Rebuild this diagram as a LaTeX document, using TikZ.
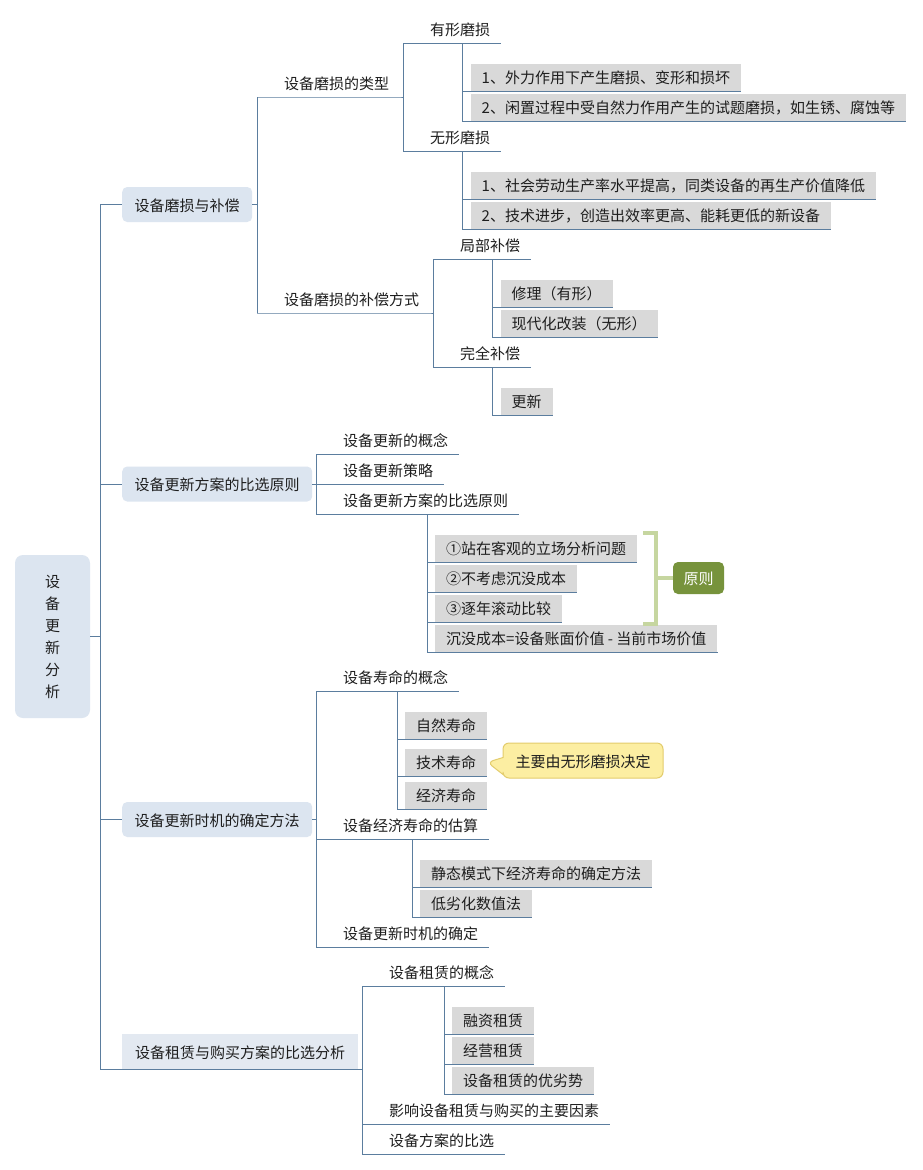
\documentclass[tikz,border=0pt]{standalone}
\usepackage{fontspec}
\setmainfont{Noto Sans CJK SC}
\usetikzlibrary{shapes.callouts}
\definecolor{lc}{HTML}{5B7D9E}
\definecolor{lone}{HTML}{DCE5F0}
\definecolor{ltwo}{HTML}{E3E9F1}
\definecolor{gb}{HTML}{D9D9D9}
\definecolor{brk}{HTML}{C6D6A0}
\definecolor{grn}{HTML}{77933C}
\definecolor{cfill}{HTML}{FCEEA2}
\definecolor{cdraw}{HTML}{E3CC6C}
\definecolor{tx}{HTML}{1E1E1E}
\begin{document}
\begin{tikzpicture}[x=1pt,y=-1pt,
  every node/.style={font=\fontsize{15pt}{22pt}\selectfont, text=tx},
  conn/.style={draw=lc, line width=1pt},
  topic/.style={anchor=south west, inner xsep=11pt, inner ysep=0pt, minimum height=28pt, text height=14pt, text depth=1pt},
  gbox/.style={anchor=south west, fill=gb, inner xsep=11pt, inner ysep=0pt, minimum height=27pt, text height=14pt, text depth=1pt},
  lvone/.style={anchor=west, fill=lone, rounded corners=5pt, inner xsep=12.5pt, inner ysep=0pt, minimum height=35pt, text height=14pt, text depth=1pt},
  brack/.style={draw=brk, line width=4pt}
]
\useasboundingbox[fill=white] (0,0) rectangle (923,1170);

% root
\node[fill=lone, rounded corners=8pt, minimum width=75pt, minimum height=163pt, align=center, inner sep=0pt] (root) at (52.5,636.5) {设\\备\\更\\新\\分\\析};

% level 1
\node[lvone] (A) at (122,204.5) {设备磨损与补偿};
\node[lvone] (B) at (122,484) {设备更新方案的比选原则};
\node[lvone] (C) at (122,819.5) {设备更新时机的确定方法};
\node[anchor=west, fill=ltwo, inner xsep=13pt, inner ysep=0pt, minimum height=35pt, text height=14pt, text depth=1pt] (D) at (122,1051.5) {设备租赁与购买方案的比选分析};

% bus x positions
\coordinate (mb) at (100,0);
\coordinate (bA) at (257,0);
\coordinate (bA1) at (403,0);
\coordinate (bA11) at (462,0);
\coordinate (bA2) at (433,0);
\coordinate (bA21) at (492,0);
\coordinate (bB) at (316,0);
\coordinate (bB3) at (427,0);
\coordinate (bC) at (316,0);
\coordinate (bC1) at (397,0);
\coordinate (bC2) at (412,0);
\coordinate (bD) at (362,0);
\coordinate (bD1) at (444,0);

% ---- A branch
\node[topic] (A1) at (273,97) {设备磨损的类型};
\node[topic] (A2) at (273,313) {设备磨损的补偿方式};
\node[topic] (A11) at (419,43) {有形磨损};
\node[topic] (A12) at (419,151) {无形磨损};
\node[gbox] (A111) at (470.5,91) {1、外力作用下产生磨损、变形和损坏};
\node[gbox] (A112) at (470.5,121) {2、闲置过程中受自然力作用产生的试题磨损，如生锈、腐蚀等};
\node[gbox] (A121) at (470.5,199) {1、社会劳动生产率水平提高，同类设备的再生产价值降低};
\node[gbox] (A122) at (470.5,229) {2、技术进步，创造出效率更高、能耗更低的新设备};
\node[topic] (A21) at (449,259) {局部补偿};
\node[topic] (A22) at (449,367) {完全补偿};
\node[gbox] (A211) at (500.5,307) {修理（有形）};
\node[gbox] (A212) at (500.5,337) {现代化改装（无形）};
\node[gbox] (A221) at (500.5,415) {更新};

% ---- B branch
\node[topic] (B1) at (332,454) {设备更新的概念};
\node[topic] (B2) at (332,484) {设备更新策略};
\node[topic] (B3) at (332,514) {设备更新方案的比选原则};
\node[gbox] (B31) at (435,562) {①站在客观的立场分析问题};
\node[gbox] (B32) at (435,592) {②不考虑沉没成本};
\node[gbox] (B33) at (435,622) {③逐年滚动比较};
\node[gbox] (B34) at (435,652) {沉没成本=设备账面价值 - 当前市场价值};
\node[fill=grn, text=white, rounded corners=5pt, minimum width=51pt, minimum height=32pt, inner sep=0pt, text height=14pt, text depth=1pt] (yz) at (698.5,578) {原则};

% ---- C branch
\node[topic] (C1) at (332,691) {设备寿命的概念};
\node[topic] (C2) at (332,839) {设备经济寿命的估算};
\node[topic] (C3) at (332,947) {设备更新时机的确定};
\node[gbox] (C11) at (405,739) {自然寿命};
\node[gbox] (C12) at (405,776) {技术寿命};
\node[gbox] (C13) at (405,809) {经济寿命};
\node[gbox] (C21) at (420,887) {静态模式下经济寿命的确定方法};
\node[gbox] (C22) at (420,917) {低劣化数值法};
\node[rectangle callout, callout absolute pointer={(C12.east)}, callout pointer width=17pt, fill=cfill, draw=cdraw, line width=1pt, rounded corners=6pt, minimum width=160pt, minimum height=35pt, inner sep=0pt, text height=14pt, text depth=1pt] (note) at (583,760.5) {主要由无形磨损决定};

% ---- D branch
\node[topic] (D1) at (378,986) {设备租赁的概念};
\node[topic] (D2) at (378,1124) {影响设备租赁与购买的主要因素};
\node[topic] (D3) at (378,1154) {设备方案的比选};
\node[gbox] (D11) at (452,1034) {融资租赁};
\node[gbox] (D12) at (452,1064) {经营租赁};
\node[gbox] (D13) at (452,1094) {设备租赁的优劣势};

% ===== connectors
\draw[conn] (root.east) -- (mb |- root.east);
\draw[conn] (mb |- A.west) -- (mb |- D.south) -- (bD |- D.south);
\draw[conn] (mb |- A.west) -- (A.west);
\draw[conn] (mb |- B.west) -- (B.west);
\draw[conn] (mb |- C.west) -- (C.west);

% A
\draw[conn] (A.east) -- (bA |- A.east);
\draw[conn] (bA |- A1.south) -- (bA |- A2.south);
\draw[conn] (bA |- A1.south) -- (A1.south east) -- (bA1 |- A1.south);
\draw[conn] (bA |- A2.south) -- (A2.south east) -- (bA2 |- A2.south);
\draw[conn] (bA1 |- A11.south) -- (bA1 |- A12.south);
\draw[conn] (bA1 |- A11.south) -- (A11.south east);
\draw[conn] (bA1 |- A12.south) -- (A12.south east);
\draw[conn] (bA11 |- A11.south) -- (bA11 |- A112.south);
\draw[conn] (bA11 |- A111.south) -- (A111.south east);
\draw[conn] (bA11 |- A112.south) -- (A112.south east);
\draw[conn] (bA11 |- A12.south) -- (bA11 |- A122.south);
\draw[conn] (bA11 |- A121.south) -- (A121.south east);
\draw[conn] (bA11 |- A122.south) -- (A122.south east);
\draw[conn] (bA2 |- A21.south) -- (bA2 |- A22.south);
\draw[conn] (bA2 |- A21.south) -- (A21.south east);
\draw[conn] (bA2 |- A22.south) -- (A22.south east);
\draw[conn] (bA21 |- A21.south) -- (bA21 |- A212.south);
\draw[conn] (bA21 |- A211.south) -- (A211.south east);
\draw[conn] (bA21 |- A212.south) -- (A212.south east);
\draw[conn] (bA21 |- A22.south) -- (bA21 |- A221.south);
\draw[conn] (bA21 |- A221.south) -- (A221.south east);

% B
\draw[conn] (B.east) -- (bB |- B.east);
\draw[conn] (bB |- B1.south) -- (bB |- B3.south);
\draw[conn] (bB |- B1.south) -- (B1.south east);
\draw[conn] (bB |- B2.south) -- (B2.south east);
\draw[conn] (bB |- B3.south) -- (B3.south east);
\draw[conn] (bB3 |- B3.south) -- (bB3 |- B34.south);
\draw[conn] (bB3 |- B31.south) -- (B31.south east);
\draw[conn] (bB3 |- B32.south) -- (B32.south east);
\draw[conn] (bB3 |- B33.south) -- (B33.south east);
\draw[conn] (bB3 |- B34.south) -- (B34.south east);
\coordinate (bk) at (656,578);
\draw[brack] (643,533) -- (bk |- 0,533) -- (bk |- 0,624) -- (643,624);
\draw[brack] (bk) -- (yz.west);

% C
\draw[conn] (C.east) -- (bC |- C.east);
\draw[conn] (bC |- C1.south) -- (bC |- C3.south);
\draw[conn] (bC |- C1.south) -- (C1.south east);
\draw[conn] (bC |- C2.south) -- (C2.south east);
\draw[conn] (bC |- C3.south) -- (C3.south east);
\draw[conn] (bC1 |- C1.south) -- (bC1 |- C13.south);
\draw[conn] (bC1 |- C11.south) -- (C11.south east);
\draw[conn] (bC1 |- C12.south) -- (C12.south east);
\draw[conn] (bC1 |- C13.south) -- (C13.south east);
\draw[conn] (bC2 |- C2.south) -- (bC2 |- C22.south);
\draw[conn] (bC2 |- C21.south) -- (C21.south east);
\draw[conn] (bC2 |- C22.south) -- (C22.south east);

% D
\draw[conn] (bD |- D1.south) -- (bD |- D3.south);
\draw[conn] (bD |- D1.south) -- (D1.south east);
\draw[conn] (bD |- D2.south) -- (D2.south east);
\draw[conn] (bD |- D3.south) -- (D3.south east);
\draw[conn] (bD1 |- D1.south) -- (bD1 |- D13.south);
\draw[conn] (bD1 |- D11.south) -- (D11.south east);
\draw[conn] (bD1 |- D12.south) -- (D12.south east);
\draw[conn] (bD1 |- D13.south) -- (D13.south east);
\end{tikzpicture}
\end{document}
